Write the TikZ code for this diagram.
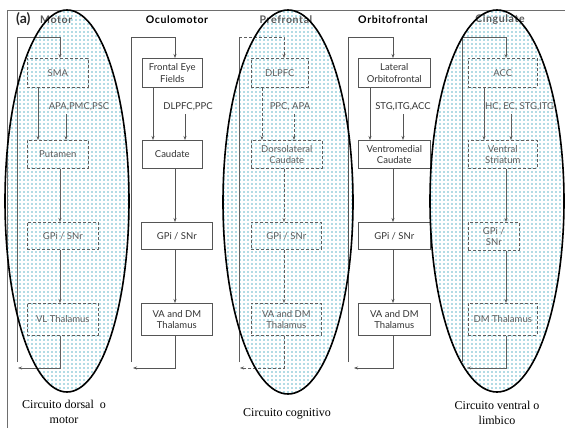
\documentclass[tikz,border=0pt]{standalone}
\usepackage{fontspec}
\setmainfont{Liberation Serif}
\newfontfamily\boxfont{Lato}
\newfontfamily\headfont[LetterSpace=6]{Lato}
\usetikzlibrary{patterns,arrows.meta}

\definecolor{linegray}{RGB}{85,85,85}
\definecolor{framegray}{RGB}{110,110,110}
\definecolor{dotblue}{RGB}{178,220,229}
\definecolor{fadedtext}{RGB}{95,95,95}

% light blue dot raster used inside the highlighted circuits
\pgfdeclarepatternformonly{bluedots}{\pgfqpoint{-1pt}{-1pt}}{\pgfqpoint{1pt}{1pt}}{\pgfqpoint{4pt}{4pt}}%
  {\pgfpathrectangle{\pgfqpoint{-0.8pt}{-0.8pt}}{\pgfqpoint{1.6pt}{1.6pt}}\pgfusepath{fill}}

\tikzset{
  x=1pt, y=-1pt,
  region/.style={pattern=bluedots, pattern color=dotblue, draw=none},
  regionedge/.style={draw=black, line width=1.6pt},
  areabox/.style={draw=linegray, line width=0.6pt, anchor=north west, inner sep=0pt,
    align=center, font=\boxfont\fontsize{9.5}{11.5}\selectfont, text=black!80},
  litbox/.style={areabox, draw=fadedtext, densely dashed, text=fadedtext},
  flow/.style={draw=linegray, line width=0.6pt, -{Stealth[length=4pt,width=3pt]}},
  flowlit/.style={flow, draw=fadedtext},
  flowdash/.style={flowlit, densely dashed},
  loopline/.style={draw=linegray, line width=0.6pt},
  looplit/.style={loopline, draw=fadedtext},
  input/.style={font=\boxfont\fontsize{9.5}{11.5}\selectfont, inner sep=0pt, text=black!80},
  inputlit/.style={input, text=fadedtext},
  header/.style={font=\headfont\bfseries\fontsize{10.5}{12}\selectfont, inner sep=0pt},
  caption/.style={font=\fontsize{12}{15}\selectfont, align=center, inner sep=0pt},
}

\begin{document}
\begin{tikzpicture}
\useasboundingbox (0,0) rectangle (565,428);
\fill[white] (0,0) rectangle (565,428);

% dotted background of the three highlighted circuits
\path[region] (67,201) ellipse [x radius=62, y radius=191];
\path[region] (288,202) ellipse [x radius=65, y radius=192];
\path[region] (497,201) ellipse [x radius=67, y radius=191];

% frame
\draw[framegray, line width=0.8pt] (565,10) -- (7,10) -- (7,428);

% column headers
\node[anchor=west, inner sep=0pt, font=\boxfont\bfseries\fontsize{14}{16}\selectfont, text=black!85] (lbl) at (16,19) {(a)};
\node[header, anchor=west, text=black!65] (hmot) at (40,20) {Motor};
\node[header] (hocu) at (177,20) {Oculomotor};
\node[header, text=black!65] (hpre) at (286,20) {Prefrontal};
\node[header] (horb) at (393,20) {Orbitofrontal};
\node[header, text=black!65] (hcin) at (500,20) {Cingulate};

% ---------------- Motor ----------------
\coordinate (ax1) at (60,0);
\node[litbox, minimum width=61, minimum height=29] (sma) at (27,58) {SMA};
\node[litbox, minimum width=61, minimum height=28] (put) at (27,140) {Putamen};
\node[litbox, minimum width=71, minimum height=27] (gp1) at (27,222) {GPi / SNr};
\node[litbox, minimum width=71, minimum height=32] (th1) at (27,303) {VL Thalamus};
\coordinate (lt1) at (17,37);
\coordinate (lb1) at (17,362);
\coordinate (ret1) at (18,368);
\node[inputlit] (in1) at (79,107) {APA,PMC,PSC};
\draw[looplit] (lb1) -- (lt1);
\draw[flowlit] (lt1) -| (sma.north -| ax1);
\draw[flowlit] (sma.south -| 38,0) -- (put.north -| 38,0);
\draw[flowlit] (in1.south -| 66,0) ++(0,3) -- (put.north -| 66,0);
\draw[flowlit] (put.south -| ax1) -- (gp1.north -| ax1);
\draw[flowlit] (gp1.south -| ax1) -- (th1.north -| ax1);
\draw[flowlit] (th1.south -| ax1) |- (ret1);

% ---------------- Oculomotor ----------------
\coordinate (ax2) at (175,0);
\node[areabox, minimum width=60, minimum height=29] (fef) at (142,58) {Frontal Eye\\Fields};
\node[areabox, minimum width=60, minimum height=28] (cau) at (142,140) {Caudate};
\node[areabox, minimum width=71, minimum height=27] (gp2) at (141,222) {GPi / SNr};
\node[areabox, minimum width=71, minimum height=32] (th2) at (141,303) {VA and DM\\Thalamus};
\coordinate (lt2) at (131,37);
\coordinate (lb2) at (131,362);
\coordinate (ret2) at (133,368);
\node[input] (in2) at (188,107) {DLPFC,PPC};
\draw[loopline] (lb2) -- (lt2);
\draw[flow] (lt2) -| (fef.north -| ax2);
\draw[flow] (fef.south -| 153,0) -- (cau.north -| 153,0);
\draw[flow] (in2.south -| 185,0) ++(0,3) -- (cau.north -| 185,0);
\draw[flow] (cau.south -| ax2) -- (gp2.north -| ax2);
\draw[flow] (gp2.south -| ax2) -- (th2.north -| ax2);
\draw[flow] (th2.south -| ax2) |- (ret2);

% ---------------- Prefrontal ----------------
\coordinate (ax3) at (284,0);
\node[litbox, minimum width=57, minimum height=29] (dlp) at (251,58) {DLPFC};
\node[litbox, minimum width=71, minimum height=28] (dlc) at (251,140) {Dorsolateral\\Caudate};
\node[litbox, minimum width=70, minimum height=27] (gp3) at (251,222) {GPi / SNr};
\node[litbox, minimum width=70, minimum height=32] (th3) at (251,303) {VA and DM\\Thalamus};
\coordinate (lt3) at (239,37);
\coordinate (lb3) at (239,362);
\coordinate (ret3) at (240,368);
\node[inputlit] (in3) at (290,107) {PPC, APA};
\draw[looplit] (lb3) -- (lt3);
\draw[flowdash] (lt3) -| (dlp.north -| ax3);
\draw[flowdash] (dlp.south -| 262,0) -- (dlc.north -| 262,0);
\draw[flowdash] (in3.south -| 294,0) ++(0,3) -- (dlc.north -| 294,0);
\draw[flowdash] (dlc.south -| ax3) -- (gp3.north -| ax3);
\draw[flowdash] (gp3.south -| ax3) -- (th3.north -| ax3);
\draw[flowdash] (th3.south -| ax3) |- (ret3);

% ---------------- Orbitofrontal ----------------
\coordinate (ax4) at (393,0);
\node[areabox, minimum width=72, minimum height=29] (lof) at (358,58) {Lateral\\Orbitofrontal};
\node[areabox, minimum width=72, minimum height=28] (vmc) at (358,140) {Ventromedial\\Caudate};
\node[areabox, minimum width=72, minimum height=27] (gp4) at (358,222) {GPi / SNr};
\node[areabox, minimum width=72, minimum height=32] (th4) at (358,303) {VA and DM\\Thalamus};
\coordinate (lt4) at (348,37);
\coordinate (lb4) at (348,362);
\coordinate (ret4) at (354,368);
\node[input] (in4) at (403,107) {STG,ITG,ACC};
\draw[loopline] (lb4) -- (lt4);
\draw[flow] (lt4) -| (lof.north -| ax4);
\draw[flow] (lof.south -| 370,0) -- (vmc.north -| 370,0);
\draw[flow] (in4.south -| 403,0) ++(0,3) -- (vmc.north -| 403,0);
\draw[flow] (vmc.south -| ax4) -- (gp4.north -| ax4);
\draw[flow] (gp4.south -| ax4) -- (th4.north -| ax4);
\draw[flow] (th4.south -| ax4) |- (ret4);

% ---------------- Cingulate ----------------
\coordinate (ax5) at (506,0);
\node[litbox, minimum width=69, minimum height=29] (acc) at (468,58) {ACC};
\node[litbox, minimum width=69, minimum height=28] (vst) at (468,140) {Ventral\\Striatum};
\node[litbox, minimum width=51, minimum height=28] (gp5) at (468,222) {GPi /\\SNr};
\node[litbox, minimum width=69, minimum height=32] (th5) at (468,303) {DM Thalamus};
\coordinate (lt5) at (462,37);
\coordinate (lb5) at (462,362);
\coordinate (ret5) at (467,368);
\node[inputlit, anchor=west] (in5) at (485,107) {HC, EC, STG,ITG};
\draw[looplit] (lb5) -- (lt5);
\draw[flowlit] (lt5) -| (acc.north -| ax5);
\draw[flowlit] (acc.south -| 484,0) -- (vst.north -| 484,0);
\draw[flowlit] (in5.south -| 511,0) ++(0,3) -- (vst.north -| 511,0);
\draw[flowlit] (vst.south -| ax5) -- (gp5.north -| ax5);
\draw[flowlit] (gp5.south -| ax5) -- (th5.north -| ax5);
\draw[flowlit] (th5.south -| ax5) |- (ret5);

% outlines of the highlighted circuits
\draw[regionedge] (67,201) ellipse [x radius=62, y radius=191];
\draw[regionedge] (288,202) ellipse [x radius=65, y radius=192];
\draw[regionedge] (497,201) ellipse [x radius=67, y radius=191];

% captions
\node[caption] (cap1) at (64,412) {Circuito dorsal\ \ o\\motor};
\node[caption] (cap2) at (287,414) {Circuito cognitivo};
\node[caption] (cap3) at (497,413) {Circuito ventral o\\limbico};
\end{tikzpicture}
\end{document}
